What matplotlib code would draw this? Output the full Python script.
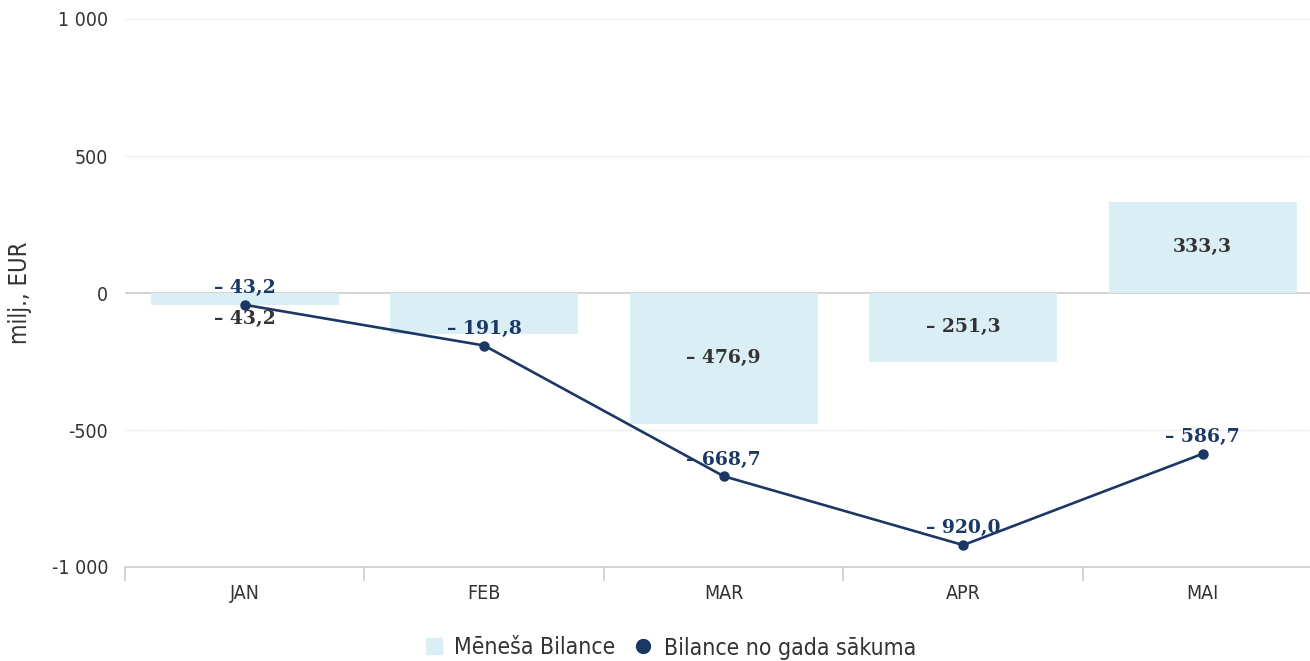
import numpy as np
import matplotlib.pyplot as plt
from matplotlib.lines import Line2D

months = ["JAN", "FEB", "MAR", "APR", "MAI"]
monthly = [-43.2, -148.6, -476.9, -251.3, 333.3]
cumulative = [-43.2, -191.8, -668.7, -920.0, -586.7]
# FEB bar label is hidden in the original (overlaps the line label)
show_bar_label = [True, False, True, True, True]

bar_color = "#daeef5"
line_color = "#1b3764"
label_gray = "#333333"


def fmt(v):
    s = "{:,.1f}".format(abs(v)).replace(",", " ").replace(".", ",")
    return ("\u2013 " + s) if v < 0 else s


def fmt_tick(v, pos=None):
    s = "{:,.0f}".format(abs(v)).replace(",", " ")
    return ("-" + s) if v < 0 else s


plt.rcParams["font.family"] = ["DejaVu Sans"]
plt.rcParams["font.stretch"] = "condensed"

fig = plt.figure(figsize=(13.1, 6.61), dpi=100)
ax = fig.add_axes([125 / 1310, 1 - 567 / 661, 1 - 125 / 1310, (567 - 19) / 661])

x = np.arange(len(months))
ax.bar(x, monthly, width=0.785, color=bar_color, zorder=2)
ax.plot(x, cumulative, color=line_color, lw=1.9, marker="o", ms=6.5, zorder=4)

ax.set_xticks(x)
ax.set_xticklabels(months)
ax.set_xticks(np.arange(-0.5, 4.6, 1), minor=True)
ax.set_xlim(-0.5, 4.448)
ax.set_ylim(-1000, 1000)
ax.set_yticks([-1000, -500, 0, 500, 1000])
ax.yaxis.set_major_formatter(plt.FuncFormatter(fmt_tick))

for y in [-500, 500, 1000]:
    ax.axhline(y, color="#dddddd", lw=0.9, ls=(0, (1, 1)), zorder=1)
ax.axhline(0, color="#cccccc", lw=1.2, zorder=1)

for sp in ["top", "right", "left"]:
    ax.spines[sp].set_visible(False)
ax.spines["bottom"].set_color("#cccccc")
ax.spines["bottom"].set_linewidth(1.2)

ax.tick_params(axis="x", which="major", length=0, pad=12, labelsize=14, labelcolor="#333333")
ax.tick_params(axis="x", which="minor", length=10, color="#cccccc", width=1.2)
ax.tick_params(axis="y", length=0, pad=12, labelsize=14, labelcolor="#333333")
ax.set_ylabel("milj., EUR", fontsize=17, color="#333333", labelpad=14)

lab_font = dict(family="DejaVu Serif", fontweight="bold", fontsize=13.5,
                fontstretch="normal")
for i, v in enumerate(monthly):
    if not show_bar_label[i]:
        continue
    if abs(v) < 80:
        ax.annotate(fmt(v), (x[i], v), xytext=(0, -10), textcoords="offset points",
                    ha="center", va="center", color=label_gray, zorder=5, **lab_font)
    else:
        ax.text(x[i], v / 2, fmt(v), ha="center", va="center",
                color=label_gray, zorder=5, **lab_font)

for i, v in enumerate(cumulative):
    ax.annotate(fmt(v), (x[i], v), xytext=(0, 12), textcoords="offset points",
                ha="center", va="center", color=line_color, zorder=5, **lab_font)

handles = [
    Line2D([], [], marker="s", ls="none", color=bar_color, ms=11),
    Line2D([], [], marker="o", ls="none", color=line_color, ms=10),
]
fig.legend(handles, ["Mēneša Bilance", "Bilance no gada sākuma"],
           loc="center", bbox_to_anchor=(668 / 1310, 1 - 648 / 661), ncol=2,
           frameon=False, fontsize=16.5, handletextpad=0.3, columnspacing=0.6,
           handlelength=1.2, labelcolor="#333333")

fig.savefig("out.png", dpi=100)
